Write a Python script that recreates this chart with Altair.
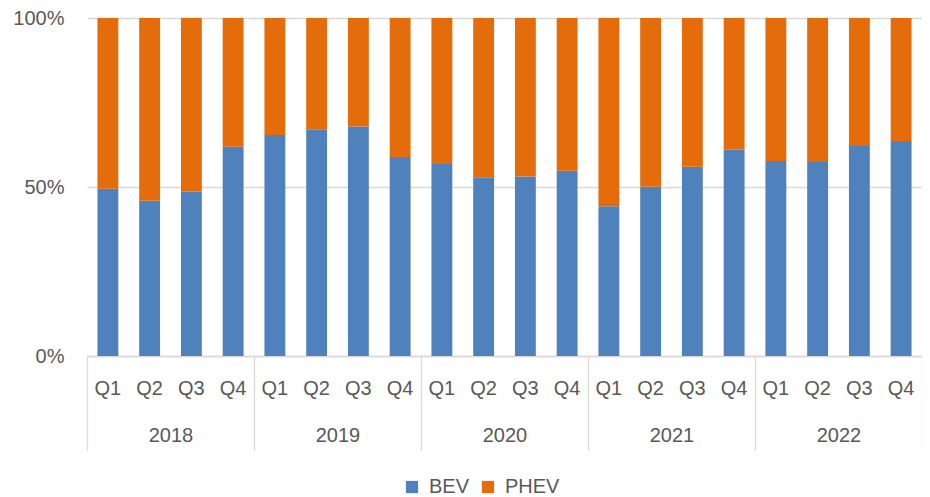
import altair as alt
import pandas as pd

years = ["2018", "2019", "2020", "2021", "2022"]
quarters = ["Q1", "Q2", "Q3", "Q4"]
bev = [49.5, 45.9, 48.6, 61.9,
       65.4, 67.1, 67.9, 58.9,
       56.8, 52.9, 53.1, 54.8,
       44.3, 50.1, 56.0, 61.1,
       57.7, 57.4, 62.1, 63.6]
phev = [50.5, 54.1, 51.4, 38.1,
        34.6, 32.9, 32.1, 41.1,
        43.2, 47.1, 46.9, 45.2,
        55.7, 49.9, 44.0, 38.9,
        42.3, 42.6, 37.9, 36.4]
series = ["BEV", "PHEV"]
colors = ["#4F81BD", "#E46C0A"]

rows = []
i = 0
for y in years:
    for q in quarters:
        rows.append({"period": f"{y}-{q}", "year": y, "type": "BEV", "share": bev[i] / 100, "ord": 0})
        rows.append({"period": f"{y}-{q}", "year": y, "type": "PHEV", "share": phev[i] / 100, "ord": 1})
        i += 1
df = pd.DataFrame(rows)
periods = [f"{y}-{q}" for y in years for q in quarters]
years_df = pd.DataFrame({"year": years})

FONT = "Liberation Sans"
GRAY = "#595959"
LINE = "#D9D9D9"

bars = alt.Chart(df).mark_bar().encode(
    x=alt.X("period:N", sort=periods,
            scale=alt.Scale(paddingInner=0.5, paddingOuter=0.25),
            axis=alt.Axis(title=None, orient="bottom", labelExpr="split(datum.label, '-')[1]",
                          ticks=False, domain=False, labelAngle=0, labelFont=FONT,
                          labelFontSize=20, labelColor=GRAY, labelPadding=22)),
    y=alt.Y("share:Q", stack="zero", scale=alt.Scale(domain=[0, 1]),
            axis=alt.Axis(title=None, values=[0, 0.5, 1], format=".0%", domain=False, ticks=False,
                          grid=True, gridColor=LINE, gridWidth=1.3, labelFont=FONT,
                          labelFontSize=20, labelColor=GRAY, labelPadding=23)),
    color=alt.Color("type:N", scale=alt.Scale(domain=series, range=colors), title=None,
                    legend=alt.Legend(orient="none", legendX=315, legendY=459,
                                      direction="horizontal", symbolType="square",
                                      symbolSize=150, symbolStrokeWidth=0, labelFont=FONT,
                                      labelFontSize=20, labelColor=GRAY, labelOffset=7,
                                      columnPadding=8)),
    order=alt.Order("ord:Q", sort="ascending"),
)

year_layer = alt.Chart(years_df).mark_bar(opacity=0).encode(
    x=alt.X("year:N", sort=years,
            scale=alt.Scale(paddingInner=0, paddingOuter=0),
            axis=alt.Axis(title=None, orient="bottom", tickBand="extent", ticks=True, tickSize=94,
                          tickColor=LINE, tickWidth=1.3, domain=True, domainColor=LINE,
                          domainWidth=1.3, labelAngle=0, labelFont=FONT, labelFontSize=20,
                          labelColor=GRAY, labelPadding=-25)),
)

chart = alt.layer(bars, year_layer).resolve_scale(x="independent").resolve_axis(x="independent").properties(
    width=835, height=338,
    autosize=alt.AutoSizeParams(type="none"),
    padding={"left": 79, "top": 10, "right": 0, "bottom": 150},
).configure_view(stroke="transparent")

chart.save("out.html", embed_options={"renderer": "svg", "actions": False})
